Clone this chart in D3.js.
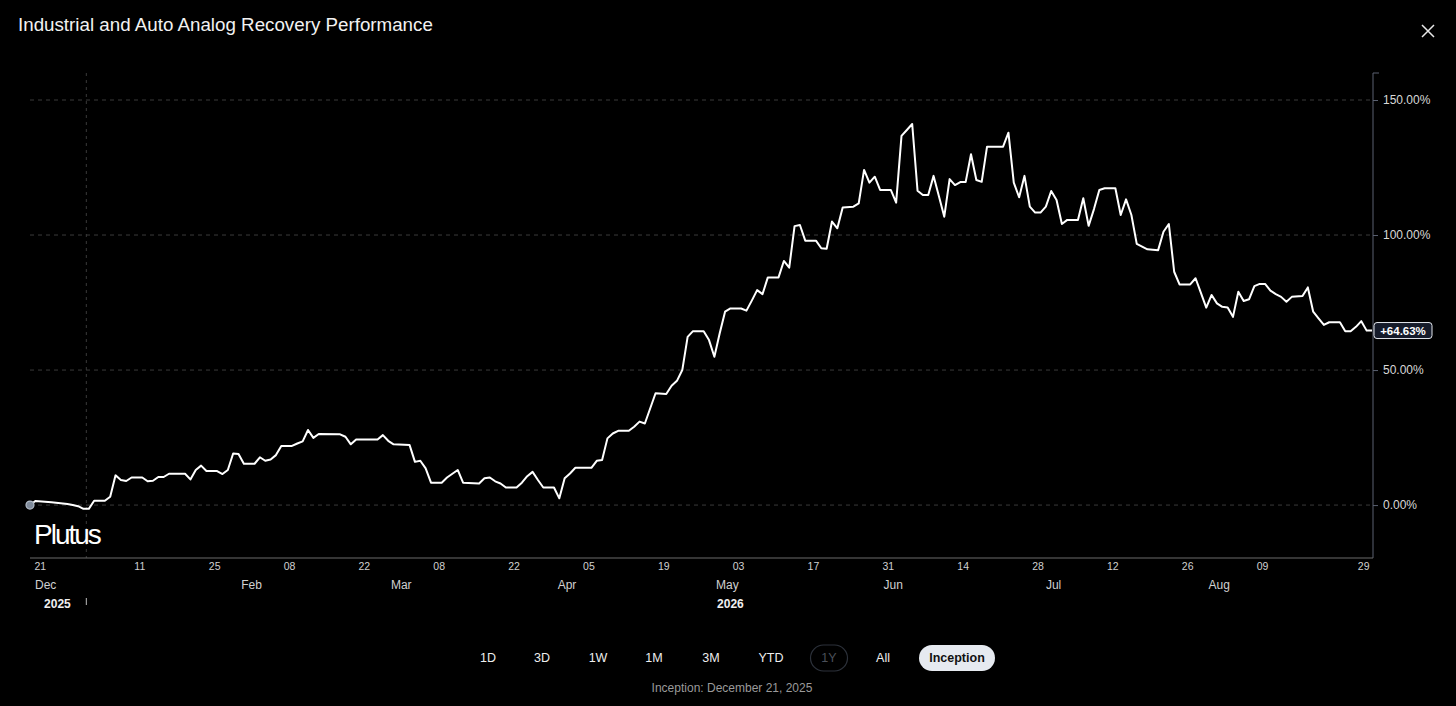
<!DOCTYPE html>
<html><head><meta charset="utf-8">
<script src="https://cdn.jsdelivr.net/npm/d3@7"></script>
<style>
html,body{margin:0;padding:0;background:#000;overflow:hidden;}
svg{display:block;}
text{font-family:"Liberation Sans",Arial,Helvetica,sans-serif;}
</style></head><body>
<svg id="c" width="1456" height="706"></svg>
<script>
// ---------------- data ----------------
const title = "Industrial and Auto Analog Recovery Performance";
const inception = "2025-12-21";
const lastDate = "2026-08-29";
const dayOffset = [0,1,4,7,8,9,10,11,12,14,15,16,17,18,19,21,22,23,24,25,26,29,30,31,32,33,35,36,37,38,39,40,42,43,44,45,46,47,49,50,51,52,53,54,58,59,60,61,65,66,67,68,71,72,73,74,75,77,78,80,81,84,85,86,87,88,89,91,92,93,94,95,96,98,99,100,101,102,105,106,107,108,109,110,112,113,114,115,117,119,120,121,122,123,124,126,127,128,129,130,131,133,134,135,136,137,138,140,141,142,143,144,145,147,148,149,150,151,152,154,155,156,157,158,159,161,162,163,164,165,166,167,168,169,170,171,172,173,174,175,176,177,178,179,182,183,184,185,186,187,188,189,190,191,192,193,194,196,197,198,199,200,201,203,204,205,206,207,208,209,211,212,213,214,215,217,218,219,220,221,222,223,224,225,226,227,228,229,230,231,232,233,234,235,236,238,239,240,241,242,243,245,246,247,248,249,250,251];
const perf = [0,1.5,1.0,0.4,0.0,-0.4,-1.4,-1.4,1.6,1.6,3.1,11.0,9.3,8.9,10.2,10.2,8.8,9.0,10.4,10.4,11.6,11.6,9.5,13.0,14.6,12.6,12.6,11.5,13.0,19.1,18.9,15.3,15.3,17.7,16.4,16.9,18.5,21.9,21.9,22.8,23.6,27.8,24.9,26.3,26.2,25.3,22.5,24.3,24.3,25.9,23.8,22.5,22.2,16.0,16.4,13.6,8.3,8.3,10.2,13.0,8.3,8.0,9.9,10.2,8.8,8.0,6.5,6.5,8.3,10.7,12.3,9.3,6.5,6.5,2.5,9.9,11.7,13.8,13.8,16.4,16.7,24.7,26.5,27.5,27.5,29.0,30.9,30.2,41.4,41.1,44.2,46.0,50.0,62.3,64.4,64.4,61.1,54.9,63.6,71.6,72.8,72.8,72.0,75.7,79.6,78.1,84.3,84.3,90.4,87.9,103.3,103.7,97.9,97.9,95.1,94.9,105.0,102.5,110.2,110.5,111.7,124.1,119.4,121.6,116.7,116.7,112.0,136.7,138.9,141.1,116.4,114.8,114.8,121.9,114.4,106.8,120.7,118.5,119.6,119.6,129.9,120.4,119.7,132.7,132.7,137.9,119.4,114.0,121.9,110.5,108.3,108.3,110.5,116.3,113.0,104.1,105.6,105.6,113.6,103.4,109.6,116.7,117.3,117.3,107.4,113.2,107.4,96.7,95.7,94.7,94.4,101.2,104.1,86.4,81.7,81.7,84.0,78.6,73.1,77.8,74.7,73.4,73.2,69.7,79.0,75.6,76.2,81.1,81.9,81.9,79.4,78.1,77.1,75.3,77.1,77.4,80.6,71.6,69.1,66.7,67.7,67.7,64.4,64.4,66.0,68.1,64.6,64.63];
const lastValue = 64.63;
const xTickDates = ["2025-12-21","2026-01-11","2026-01-25","2026-02-08","2026-02-22","2026-03-08","2026-03-22","2026-04-05","2026-04-19","2026-05-03","2026-05-17","2026-05-31","2026-06-14","2026-06-28","2026-07-12","2026-07-26","2026-08-09","2026-08-29"];
const monthLabels = ["Dec","Feb","Mar","Apr","May","Jun","Jul","Aug"];
const monthStarts = ["2025-12-01","2026-02-01","2026-03-01","2026-04-01","2026-05-01","2026-06-01","2026-07-01","2026-08-01"];
const yearLabels = ["2025","2026"];
const yTicks = [0,50,100,150];
const rangeButtons = ["1D","3D","1W","1M","3M","YTD","1Y","All","Inception"];
const footnote = "Inception: December 21, 2025";

// ---------------- layout ----------------
const W = 1456, H = 706;
const plot = {left:30, right:1373, top:73, bottom:558};
const parse = d3.utcParse("%Y-%m-%d");
const t0 = parse(inception), t1 = parse(lastDate);
const points = dayOffset.map((d,i)=>({date:d3.utcDay.offset(t0,d), v:perf[i]}));

const x = d3.scaleUtc().domain([t0,t1]).range([plot.left,1372]);
const y = d3.scaleLinear().domain([-19.6,160]).range([plot.bottom,plot.top]);

const svg = d3.select("#c");
svg.append("rect").attr("width",W).attr("height",H).attr("fill","#000");

// title
const tt = svg.append("text").attr("x",18).attr("y",31).attr("fill","#f2f2f2")
  .attr("font-size",18).text(title);
{ const w = tt.node().getComputedTextLength(); tt.attr("font-size", 18*415/w); }

// close icon
const cx = 1428, cy = 31, cs = 6;
svg.append("path").attr("d",`M${cx-cs},${cy-cs}L${cx+cs},${cy+cs}M${cx+cs},${cy-cs}L${cx-cs},${cy+cs}`)
  .attr("stroke","#e8e8e8").attr("stroke-width",1.5).attr("fill","none");

// grid lines
const g = svg.append("g");
g.selectAll("line.grid").data(yTicks).join("line")
  .attr("x1",plot.left).attr("x2",plot.right)
  .attr("y1",d=>y(d)).attr("y2",d=>y(d))
  .attr("stroke","#3a3a3a").attr("stroke-width",1).attr("stroke-dasharray","4,4");

// year boundary vertical dashed line
const jan1 = parse("2026-01-01");
g.append("line").attr("x1",x(jan1)-2.5).attr("x2",x(jan1)-2.5).attr("y1",plot.top).attr("y2",plot.bottom)
  .attr("stroke","#3a3a3a").attr("stroke-dasharray","3,4");

// right axis
const yAxis = d3.axisRight(y).tickValues(yTicks).tickSize(5).tickPadding(5)
  .tickFormat(d=>d3.format(".2f")(d)+"%");
const ya = svg.append("g").attr("transform",`translate(${plot.right},0)`).call(yAxis);
ya.select(".domain").attr("stroke","#5a6070").attr("d",`M6,${plot.top}H0V${plot.bottom}`);
ya.selectAll(".tick line").attr("stroke","#5a6070");
ya.selectAll(".tick text").attr("fill","#d8d8d8").attr("font-size",12)
  .attr("font-family","'Liberation Sans',Arial,sans-serif");

// bottom axis
const xAxis = d3.axisBottom(x).tickValues(xTickDates.map(parse)).tickSize(0).tickPadding(5)
  .tickFormat(d3.utcFormat("%d"));
const xa = svg.append("g").attr("transform",`translate(0,${plot.bottom})`).call(xAxis);
xa.select(".domain").attr("stroke","#6a6a6a").attr("d",`M${plot.left},0H${plot.right}`);
xa.selectAll(".tick text").attr("fill","#d0d0d0").attr("font-size",10.5).attr("dx",-3)
  .attr("font-family","'Liberation Sans',Arial,sans-serif");
const xTicks = xa.selectAll(".tick text").nodes();
d3.select(xTicks[0]).attr("text-anchor","start").attr("dx",4);
d3.select(xTicks[xTicks.length-1]).attr("text-anchor","end").attr("dx",-3);

// month labels
svg.selectAll("text.month").data(monthLabels).join("text").attr("class","month")
  .attr("x",(d,i)=> i===0 ? 35 : x(parse(monthStarts[i]))-3)
  .attr("y",589).attr("text-anchor",(d,i)=> i===0 ? "start":"middle")
  .attr("fill","#d0d0d0").attr("font-size",12).text(d=>d);

// year labels
const yearMid = [ (plot.left + x(jan1))/2 - 2, (x(jan1) + 1372)/2 ];
svg.selectAll("text.year").data(yearLabels).join("text").attr("class","year")
  .attr("x",(d,i)=>yearMid[i]).attr("y",608).attr("text-anchor","middle")
  .attr("fill","#f0f0f0").attr("font-size",12).attr("font-weight","bold").text(d=>d);
svg.append("line").attr("x1",x(jan1)-2.5).attr("x2",x(jan1)-2.5).attr("y1",598).attr("y2",605)
  .attr("stroke","#bbb").attr("stroke-width",1);

// watermark
svg.append("text").attr("x",34).attr("y",544).attr("fill","#ffffff")
  .attr("font-size",28).attr("letter-spacing",-2).text("Plutus");

// line
const line = d3.line().x(d=>x(d.date)).y(d=>y(d.v)).curve(d3.curveLinear);
svg.append("path").datum(points).attr("d",line).attr("fill","none")
  .attr("stroke","#ffffff").attr("stroke-width",2).attr("stroke-linejoin","round");

// start dot
svg.append("circle").attr("cx",x(points[0].date)).attr("cy",y(points[0].v)).attr("r",4)
  .attr("fill","#7f8b9b").attr("stroke","#b4bdc9").attr("stroke-width",1.2);

// last value badge
const ly = y(lastValue);
svg.append("rect").attr("x",plot.right+1).attr("y",ly-8).attr("width",58).attr("height",16).attr("rx",3)
  .attr("fill","#151b2a").attr("stroke","#e4e8ee").attr("stroke-width",1);
svg.append("text").attr("x",plot.right+30).attr("y",ly+4).attr("text-anchor","middle")
  .attr("fill","#ffffff").attr("font-size",11.5).attr("font-weight","bold")
  .text((lastValue>=0?"+":"")+d3.format(".2f")(lastValue)+"%");

// range buttons
const btnX = [488,542,598,654,711,771,829,883,957];
const btnW = {"1Y":37,"Inception":76};
const bg = svg.append("g");
rangeButtons.forEach((b,i)=>{
  if (b==="1Y") {
    bg.append("rect").attr("x",btnX[i]-btnW[b]/2).attr("y",645).attr("width",btnW[b]).attr("height",26)
      .attr("rx",13).attr("fill","none").attr("stroke","#2c313a").attr("stroke-width",1.2);
  }
  if (b==="Inception") {
    bg.append("rect").attr("x",btnX[i]-btnW[b]/2).attr("y",645).attr("width",btnW[b]).attr("height",26)
      .attr("rx",13).attr("fill","#e6eaf0");
  }
  bg.append("text").attr("x",btnX[i]).attr("y",662).attr("text-anchor","middle")
    .attr("font-size",12.5)
    .attr("font-weight", b==="Inception" ? 600 : 400)
    .attr("fill", b==="1Y" ? "#4a4f58" : (b==="Inception" ? "#111" : "#eeeeee"))
    .text(b);
});

svg.append("text").attr("x",732).attr("y",692).attr("text-anchor","middle")
  .attr("fill","#9a9a9a").attr("font-size",12).text(footnote);
</script>
</body></html>
